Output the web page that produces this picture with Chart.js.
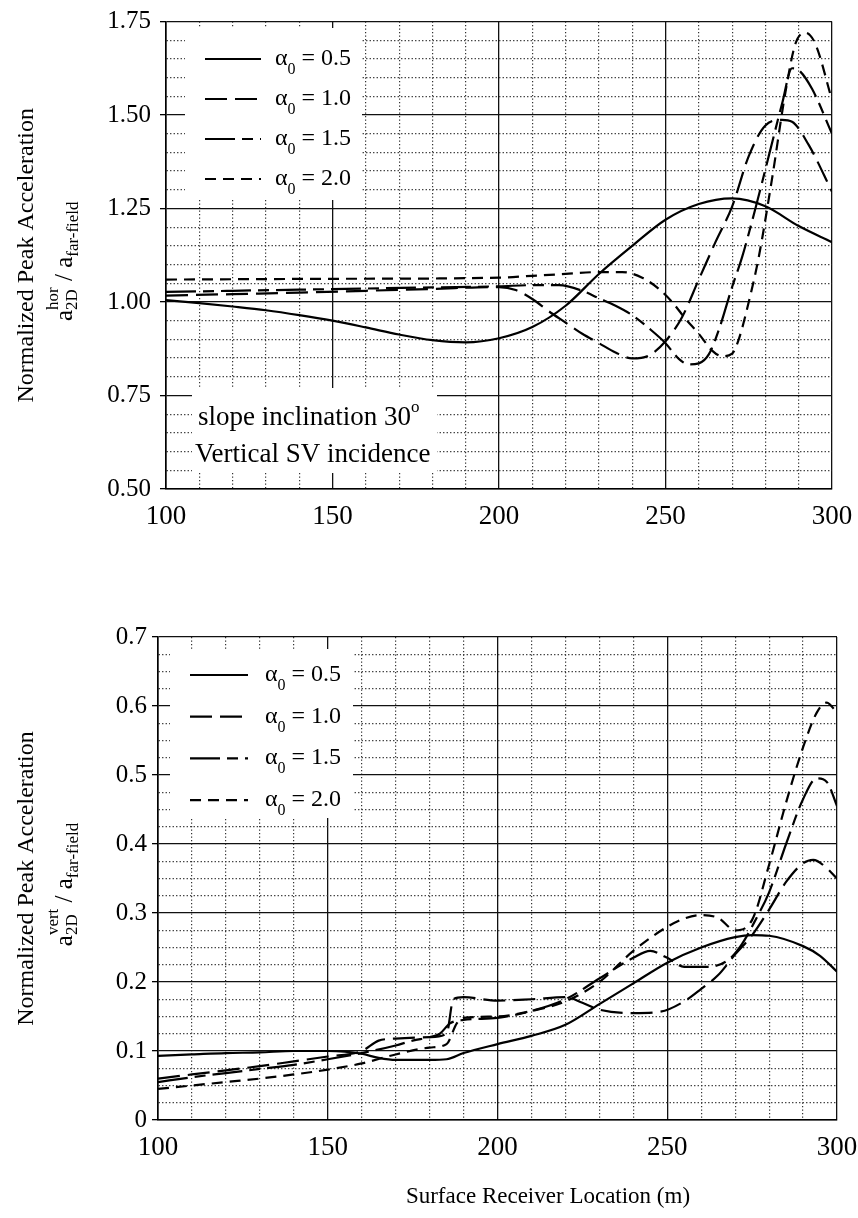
<!DOCTYPE html>
<html>
<head>
<meta charset="utf-8">
<script src="https://cdn.jsdelivr.net/npm/chart.js@4.4.1/dist/chart.umd.min.js"></script>
<style>
  body { margin: 0; background: #fff; }
  #page { position: relative; width: 858px; height: 1218px; background: #fff; }
  canvas { position: absolute; left: 0; }
</style>
</head>
<body>
<div id="page">
  <canvas id="hor" width="858" height="560" style="top:0px"></canvas>
  <canvas id="vert" width="858" height="628" style="top:590px"></canvas>
</div>
<script>
// series names and tick labels
const alphaLabels = ['0.5', '1.0', '1.5', '2.0'];
const xTickLabels = ['100', '150', '200', '250', '300'];
const horTickLabels = ['0.50', '0.75', '1.00', '1.25', '1.50', '1.75'];
const vertTickLabels = ['0', '0.1', '0.2', '0.3', '0.4', '0.5', '0.6', '0.7'];

// horizontal component (top panel)
const horX05 = [100,110,120,130,140,150,160,170,180,190,200,210,220,230,240,250,260,270,280,290,300];
const horY05 = [1.005,0.997,0.988,0.978,0.965,0.95,0.932,0.913,0.898,0.892,0.903,0.933,0.99,1.075,1.15,1.22,1.262,1.277,1.256,1.203,1.16];
const horX10 = [100,120,140,160,180,200,205,210,215,220,225,230,235,240,245,250,255,260,265,270,275,280,285,288,293,300];
const horY10 = [1.017,1.021,1.025,1.03,1.035,1.04,1.032,1.008,0.975,0.945,0.915,0.89,0.865,0.849,0.857,0.895,0.96,1.06,1.16,1.255,1.39,1.472,1.487,1.482,1.42,1.295];
const horX15 = [100,120,140,160,180,200,210,218,225,230,235,240,245,250,254,257,260,263,266,270,273,277,281,285,288,290,294,300];
const horY15 = [1.027,1.03,1.033,1.036,1.039,1.042,1.045,1.045,1.03,1.01,0.99,0.965,0.93,0.89,0.848,0.833,0.836,0.86,0.925,1.04,1.12,1.25,1.39,1.53,1.625,1.62,1.57,1.45];
const horX20 = [100,150,200,210,220,230,237,243,248,252,256,260,264,267,270,272,275,278,282,286,289,292,295,300];
const horY20 = [1.06,1.062,1.065,1.07,1.075,1.08,1.08,1.065,1.035,1.0,0.955,0.915,0.87,0.855,0.862,0.9,1.0,1.12,1.33,1.56,1.69,1.72,1.69,1.54];

// vertical component (bottom panel)
const vertX05 = [100,110,120,130,140,150,155,160,165,170,180,185,190,200,210,220,230,240,250,260,270,275,280,290,295,300];
const vertY05 = [0.093,0.095,0.097,0.098,0.1,0.1,0.099,0.096,0.09,0.087,0.087,0.088,0.097,0.11,0.122,0.138,0.168,0.198,0.228,0.25,0.265,0.268,0.267,0.252,0.238,0.215];
const vertX10 = [100,110,120,130,140,150,160,165,170,180,185,187,190,200,210,220,225,230,240,248,255,260,265,270,275,280,285,290,293,297,300];
const vertY10 = [0.06,0.066,0.072,0.078,0.085,0.092,0.1,0.115,0.118,0.12,0.125,0.175,0.178,0.173,0.175,0.178,0.17,0.16,0.155,0.157,0.172,0.19,0.21,0.24,0.268,0.305,0.345,0.372,0.377,0.365,0.35];
const vertX15 = [100,110,120,130,140,150,160,170,175,180,183,186,190,200,210,220,230,240,245,250,255,262,268,272,276,280,285,290,294,297,300];
const vertY15 = [0.055,0.062,0.068,0.074,0.08,0.088,0.097,0.108,0.115,0.12,0.125,0.14,0.145,0.148,0.158,0.175,0.205,0.235,0.245,0.235,0.222,0.222,0.232,0.255,0.29,0.33,0.4,0.465,0.495,0.49,0.455];
const vertX20 = [100,110,120,130,140,150,160,170,180,185,188,190,200,210,220,230,240,250,255,260,265,270,275,280,285,290,294,297,300];
const vertY20 = [0.045,0.05,0.055,0.06,0.066,0.073,0.082,0.095,0.105,0.11,0.14,0.148,0.15,0.158,0.172,0.2,0.245,0.28,0.292,0.297,0.293,0.275,0.29,0.37,0.46,0.54,0.59,0.605,0.59];

const SERIF = '"Liberation Serif", "Times New Roman", serif';
const dashes = [[], [22, 8], [30, 7, 11, 7], [11, 7]];
const DOT = [1.3, 2.2];

function findLabel(labels, v) {
  const l = labels.find(s => Math.abs(parseFloat(s) - v) < 1e-6);
  return l || '';
}

// text with sub/superscripts, parts share a baseline offset by dy
function drawRich(ctx, parts, x, y, align) {
  let pos = 0, lastStart = 0;
  const placed = parts.map(p => {
    ctx.font = p.f + 'px ' + SERIF;
    const w = ctx.measureText(p.t).width;
    const start = p.stack ? lastStart : pos;
    lastStart = start;
    pos = Math.max(pos, start + w);
    return { p, start };
  });
  const shift = align === 'center' ? -pos / 2 : 0;
  ctx.textAlign = 'left';
  ctx.textBaseline = 'alphabetic';
  ctx.fillStyle = '#000';
  placed.forEach(({ p, start }) => {
    ctx.font = p.f + 'px ' + SERIF;
    ctx.fillText(p.t, x + shift + start, y + (p.dy || 0));
  });
}

function drawLegend(ctx, L) {
  alphaLabels.forEach((lbl, i) => {
    const y = L.y0 + i * L.dy;
    ctx.save();
    ctx.setLineDash(dashes[i]);
    ctx.lineWidth = 2.2;
    ctx.strokeStyle = '#000';
    ctx.beginPath();
    ctx.moveTo(L.x0, y);
    ctx.lineTo(L.x0 + L.len, y);
    ctx.stroke();
    ctx.restore();
    drawRich(ctx, [{ t: 'α', f: 24 }, { t: '0', f: 16, dy: 9 }, { t: ' = ' + lbl, f: 24 }], L.tx, y + 6, 'left');
  });
}

function yTitle(ctx, cy, sup) {
  ctx.save();
  ctx.translate(33, cy);
  ctx.rotate(-Math.PI / 2);
  drawRich(ctx, [{ t: 'Normalized Peak Acceleration', f: 24 }], 0, 0, 'center');
  ctx.restore();
  ctx.save();
  ctx.translate(72, cy + 6);
  ctx.rotate(-Math.PI / 2);
  drawRich(ctx, [
    { t: 'a', f: 25 }, { t: sup, f: 17, dy: -14 }, { t: '2D', f: 17, dy: 5, stack: true },
    { t: ' / a', f: 25 }, { t: 'far-field', f: 17, dy: 6 }
  ], 0, 0, 'center');
  ctx.restore();
}

function decor(cfg) {
  return {
    id: 'decor_' + cfg.id,
    beforeDatasetsDraw(chart) {
      const ctx = chart.ctx;
      ctx.save();
      ctx.fillStyle = '#fff';
      cfg.boxes.forEach(b => ctx.fillRect(b[0], b[1], b[2] - b[0], b[3] - b[1]));
      ctx.restore();
    },
    afterDatasetsDraw(chart) {
      const ctx = chart.ctx, a = chart.chartArea;
      ctx.save();
      drawLegend(ctx, cfg.legend);
      yTitle(ctx, (a.top + a.bottom) / 2, cfg.sup);
      if (cfg.notes) {
        drawRich(ctx, [{ t: 'slope inclination 30', f: 27 }, { t: 'o', f: 17, dy: -13 }], cfg.notes.x1, cfg.notes.y1, 'left');
        drawRich(ctx, [{ t: 'Vertical SV incidence', f: 27 }], cfg.notes.x2, cfg.notes.y2, 'left');
      }
      if (cfg.xTitle) {
        drawRich(ctx, [{ t: 'Surface Receiver Location (m)', f: 23 }], cfg.xTitle.x, cfg.xTitle.y, 'center');
      }
      ctx.restore();
    }
  };
}

function makeChart(cfg) {
  const isMajor = (labels, c) => c.tick ? findLabel(labels, c.tick.value) !== '' : true;
  return new Chart(document.getElementById(cfg.id), {
    type: 'line',
    data: {
      datasets: cfg.series.map((s, i) => ({
        label: 'α0 = ' + alphaLabels[i],
        data: s[0].map((x, j) => ({ x: x, y: s[1][j] })),
        borderColor: '#000',
        borderWidth: 2.2,
        borderDash: dashes[i],
        borderCapStyle: 'butt',
        pointRadius: 0,
        fill: false,
        cubicInterpolationMode: 'monotone'
      }))
    },
    options: {
      responsive: false,
      animation: false,
      devicePixelRatio: 1,
      layout: { padding: cfg.padding },
      plugins: { legend: { display: false }, tooltip: { enabled: false } },
      scales: {
        x: {
          type: 'linear', min: 100, max: 300,
          ticks: {
            stepSize: 10, autoSkip: false, maxRotation: 0, padding: 0, color: '#000',
            font: { family: SERIF, size: 27, lineHeight: 1 },
            callback: v => findLabel(xTickLabels, v)
          },
          grid: {
            drawTicks: true,
            tickLength: cfg.xPad,
            tickColor: 'rgba(0,0,0,0)',
            color: c => isMajor(xTickLabels, c) ? '#111' : '#333',
            lineWidth: c => isMajor(xTickLabels, c) ? 1.3 : 1.2
          },
          border: { color: '#000', width: 1.6, dash: c => isMajor(xTickLabels, c) ? [] : DOT },
          afterFit: s => { s.height = cfg.xHeight; }
        },
        y: {
          type: 'linear', min: cfg.yMin, max: cfg.yMax,
          ticks: {
            stepSize: cfg.yStep, autoSkip: false, padding: cfg.yPad, color: '#000',
            font: { family: SERIF, size: 25, lineHeight: 1 },
            callback: v => findLabel(cfg.yLabels, v)
          },
          grid: {
            tickLength: 6,
            tickWidth: 1.3,
            tickColor: c => isMajor(cfg.yLabels, c) ? '#000' : 'rgba(0,0,0,0)',
            color: c => isMajor(cfg.yLabels, c) ? '#111' : '#333',
            lineWidth: c => isMajor(cfg.yLabels, c) ? 1.3 : 1.2
          },
          border: { color: '#000', width: 1.6, dash: c => isMajor(cfg.yLabels, c) ? [] : DOT },
          afterFit: s => { s.width = cfg.yWidth; }
        }
      }
    },
    plugins: [decor(cfg)]
  });
}

makeChart({
  id: 'hor',
  series: [[horX05, horY05], [horX10, horY10], [horX15, horY15], [horX20, horY20]],
  yMin: 0.5, yMax: 1.75, yStep: 0.05, yLabels: horTickLabels,
  padding: { top: 14, right: 26, left: 0, bottom: 0 },
  yWidth: 166, xHeight: 71, xPad: 14, yPad: 9,
  sup: 'hor',
  boxes: [[185, 28, 362, 200], [192, 388, 437, 473]],
  legend: { x0: 205, len: 56, tx: 275, y0: 59, dy: 40 },
  notes: { x1: 198, y1: 425, x2: 195, y2: 462 }
});

makeChart({
  id: 'vert',
  series: [[vertX05, vertY05], [vertX10, vertY10], [vertX15, vertY15], [vertX20, vertY20]],
  yMin: 0, yMax: 0.7, yStep: 0.025, yLabels: vertTickLabels,
  padding: { top: 47, right: 21, left: 0, bottom: 0 },
  yWidth: 158, xHeight: 98, xPad: 14, yPad: 5,
  sup: 'vert',
  boxes: [[170, 59, 353, 228]],
  legend: { x0: 190, len: 58, tx: 265, y0: 85, dy: 41.7 },
  xTitle: { x: 548, y: 613 }
});
</script>
</body>
</html>
